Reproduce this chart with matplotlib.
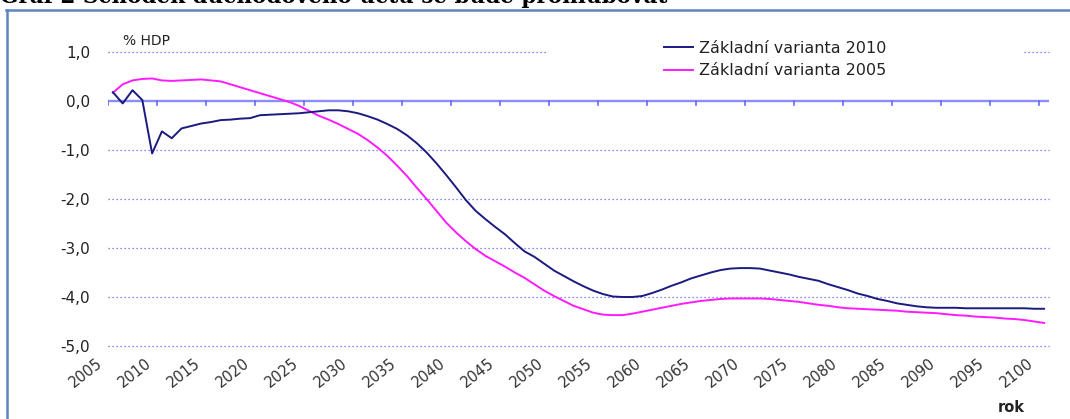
import matplotlib
matplotlib.use("Agg")
import matplotlib.pyplot as plt
import matplotlib.transforms as mtransforms
from matplotlib.lines import Line2D
from matplotlib.patches import Rectangle

plt.rcParams['font.family'] = ['DejaVu Sans']

years = list(range(2005, 2101))

# Základní varianta 2010 (% HDP)
var_2010 = [0.18, -0.05, 0.22, 0.02, -1.07, -0.62, -0.76, -0.56, -0.51, -0.46,
            -0.43, -0.39, -0.38, -0.36, -0.35, -0.29, -0.28, -0.27, -0.26, -0.25,
            -0.23, -0.21, -0.19, -0.19, -0.21, -0.25, -0.31, -0.38, -0.47, -0.57,
            -0.70, -0.86, -1.05, -1.27, -1.51, -1.76, -2.02, -2.24, -2.41, -2.57,
            -2.72, -2.90, -3.07, -3.18, -3.32, -3.46, -3.57, -3.68, -3.78, -3.87,
            -3.94, -3.99, -4.00, -4.00, -3.98, -3.92, -3.85, -3.77, -3.70, -3.62,
            -3.56, -3.50, -3.45, -3.42, -3.41, -3.41, -3.42, -3.46, -3.50, -3.54,
            -3.59, -3.63, -3.67, -3.74, -3.80, -3.86, -3.93, -3.98, -4.04, -4.08,
            -4.13, -4.16, -4.19, -4.21, -4.22, -4.22, -4.22, -4.23, -4.23, -4.23,
            -4.23, -4.23, -4.23, -4.23, -4.24, -4.24]

# Základní varianta 2005 (% HDP)
var_2005 = [0.17, 0.34, 0.42, 0.45, 0.46, 0.42, 0.41, 0.42, 0.43, 0.44,
            0.42, 0.40, 0.34, 0.28, 0.22, 0.16, 0.10, 0.04, -0.02, -0.10,
            -0.20, -0.30, -0.38, -0.47, -0.57, -0.67, -0.80, -0.95, -1.12, -1.32,
            -1.53, -1.77, -2.00, -2.24, -2.48, -2.68, -2.86, -3.02, -3.16, -3.27,
            -3.38, -3.50, -3.61, -3.74, -3.87, -3.98, -4.08, -4.18, -4.25, -4.32,
            -4.36, -4.37, -4.37, -4.34, -4.30, -4.26, -4.22, -4.18, -4.14, -4.11,
            -4.08, -4.06, -4.04, -4.03, -4.03, -4.03, -4.03, -4.04, -4.06, -4.08,
            -4.10, -4.13, -4.16, -4.18, -4.21, -4.23, -4.24, -4.25, -4.26, -4.27,
            -4.28, -4.30, -4.31, -4.32, -4.33, -4.35, -4.37, -4.38, -4.40, -4.41,
            -4.42, -4.44, -4.45, -4.47, -4.50, -4.53]

y_ticks = [1, 0, -1, -2, -3, -4, -5]
y_labels = ["1,0", "0,0", "-1,0", "-2,0", "-3,0", "-4,0", "-5,0"]

W, H = 1070, 419
fig = plt.figure(figsize=(W / 100, H / 100), dpi=100)
ax = fig.add_axes([108 / W, 1 - 346 / H, (1049 - 108) / W, (346 - 52) / H])

idx = list(range(len(years)))
ax.set_xlim(-0.5, len(years) - 0.5)
ax.set_ylim(-5, 1)

grid_col = '#5c5cff'
for v in y_ticks:
    if v != 0:
        ax.axhline(v, color=grid_col, lw=0.9, ls=(0, (1, 2.2)), zorder=1, clip_on=False)

# category axis at 0 with tick marks every 5 years
ax.axhline(0, color='#8c8cff', lw=1.7, zorder=2)
for i in range(0, len(years) + 1, 5):
    ax.plot([i - 0.5, i - 0.5], [0, -0.09], color='#6a6aff', lw=1.2, zorder=2)

l1, = ax.plot(idx, var_2010, color='#1a1a80', lw=1.4, zorder=4,
              label='Základní varianta 2010')
l2, = ax.plot(idx, var_2005, color='#ff1aff', lw=1.4, zorder=3,
              label='Základní varianta 2005')

for s in ax.spines.values():
    s.set_visible(False)

ax.set_yticks(y_ticks)
ax.set_yticklabels(y_labels, fontsize=11, color='#222222')
ax.tick_params(axis='y', length=0, pad=13)

ax.set_xticks(idx[::5])
ax.set_xticklabels([str(y) for y in years[::5]], fontsize=10.5, color='#333333',
                   rotation=38, ha='right', va='top', rotation_mode='anchor')
ax.tick_params(axis='x', length=0, pad=7)
offset = mtransforms.ScaledTranslation(-17 / 100, 0, fig.dpi_scale_trans)
for lab in ax.get_xticklabels():
    lab.set_transform(lab.get_transform() + offset)

# white legend box hiding the top gridline
ax.add_patch(Rectangle(((548 - 108) / 941, (346 - 90) / 294), (1022 - 548) / 941, 0.2,
                       transform=ax.transAxes, facecolor='white', edgecolor='none',
                       zorder=2, clip_on=False))
leg = ax.legend(handles=[l1, l2], loc='upper left', frameon=False, fontsize=11.5,
                bbox_to_anchor=(656 / W, 1 - 33 / H), bbox_transform=fig.transFigure,
                borderpad=0, handlelength=1.8, handletextpad=0.4, labelspacing=0.45)
for t in leg.get_texts():
    t.set_color('#222222')

fig.text(123 / W, 1 - 41 / H, '% HDP', fontsize=10, va='center', ha='left', color='#222222')
fig.text(1025 / W, 1 - 407 / H, 'rok', fontsize=10.5, fontweight='bold', va='center',
         ha='right', color='#222222')

# clipped heading of the source page and frame
fig.text(0 / W, 1 - 3 / H, 'Graf 2 Schodek důchodového účtu se bude prohlubovat',
         family='DejaVu Serif', fontweight='bold', fontsize=15.5, va='baseline', ha='left')
fig.add_artist(Line2D([6 / W, 1], [1 - 10.5 / H, 1 - 10.5 / H], transform=fig.transFigure,
                      color='#5a86c2', lw=1.8))
fig.add_artist(Line2D([6.5 / W, 6.5 / W], [0, 1 - 10 / H], transform=fig.transFigure,
                      color='#5a86c2', lw=1.8))

fig.savefig('out.png', dpi=100)
